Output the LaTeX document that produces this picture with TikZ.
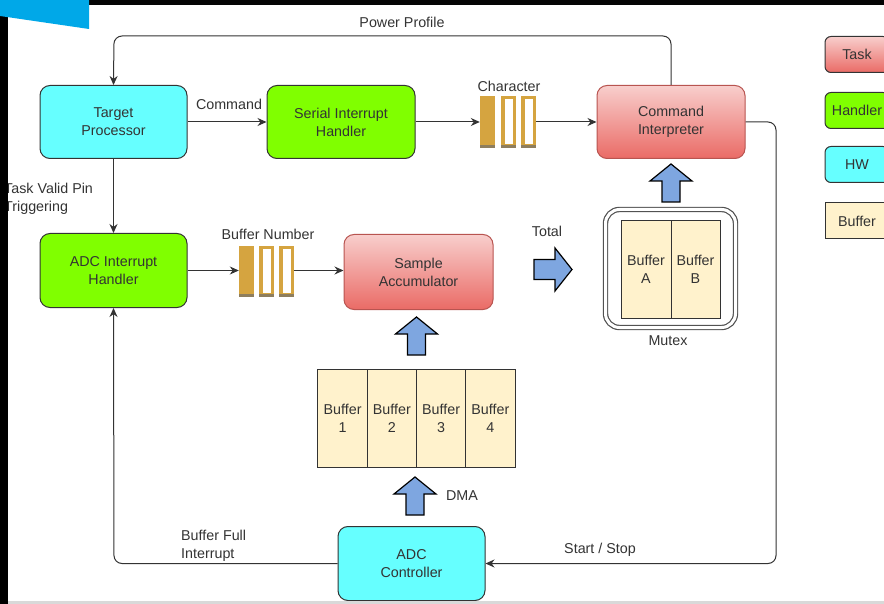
\documentclass[tikz,border=0pt]{standalone}
\usepackage{fontspec}
\setmainfont{Liberation Sans}
\usetikzlibrary{arrows.meta}
\definecolor{txt}{HTML}{333333}
\definecolor{strk}{HTML}{333333}
\definecolor{hwc}{HTML}{66FFFF}
\definecolor{handc}{HTML}{80FF00}
\definecolor{taskt}{HTML}{F8CECC}
\definecolor{taskb}{HTML}{EA6B66}
\definecolor{taskd}{HTML}{B85450}
\definecolor{bufc}{HTML}{FFF2CC}
\definecolor{qc}{HTML}{D5A440}
\definecolor{qd}{HTML}{8E7E5E}
\definecolor{arrc}{HTML}{7EA6E0}
\definecolor{topblue}{HTML}{00A8E8}
\newcommand\fs{\fontsize{14.3}{18}\selectfont}
\tikzset{
  box/.style={draw=strk, line width=1pt, rounded corners=10pt, minimum width=147pt, minimum height=73pt, inner sep=0pt, align=center, font=\fs, text=txt},
  hw/.style={box, fill=hwc},
  handler/.style={box, fill=handc},
  task/.style={box, top color=taskt, bottom color=taskb, draw=taskd},
  lbl/.style={font=\fs, text=txt, inner sep=0pt},
  conn/.style={draw=strk, line width=1pt, -{Stealth[length=9pt,width=8pt]}, rounded corners=8pt},
  bufcell/.style={draw=strk, line width=1pt, fill=bufc, inner sep=0pt, align=center, font=\fs, text=txt},
  legbox/.style={box, minimum width=64pt, minimum height=36pt, rounded corners=6pt},
  barrow/.style={draw=black, line width=1.2pt, fill=arrc, line join=miter},
  uparr/.pic={\draw[barrow] (-9,0) -- (-9,-21) -- (-21,-21) -- (0,-38) -- (21,-21) -- (9,-21) -- (9,0) -- cycle;},
  rarr/.pic={\draw[barrow] (0,-10) -- (21,-10) -- (21,-21.5) -- (38,0) -- (21,21.5) -- (21,10) -- (0,10) -- cycle;},
  qbar/.style={draw=qc, line width=3.5pt},
}
\begin{document}
\begin{tikzpicture}[x=1pt,y=-1pt]
\useasboundingbox (0,0) rectangle (884,604);
\clip (0,0) rectangle (884,604);
\fill[white] (0,0) rectangle (884,604);
\fill[black!2!white] (89,5) rectangle (884,10);

% main nodes
\node[hw] (tp) at (113.5,122) {Target\\Processor};
\node[handler, minimum width=148pt] (sih) at (341,122) {Serial Interrupt\\Handler};
\node[task, minimum width=148pt] (ci) at (671,122) {Command\\Interpreter};
\node[handler, minimum height=74pt] (aih) at (113.5,270.5) {ADC Interrupt\\Handler};
\node[task, minimum width=149pt, minimum height=75pt] (sa) at (418.5,272) {Sample\\Accumulator};
\node[hw, minimum height=74pt] (adc) at (411.5,563.5) {ADC\\Controller};

% legend
\node[task, legbox] (lt) at (857,54.5) {Task};
\node[handler, legbox] (lh) at (857,110.5) {Handler};
\node[hw, legbox] (lw) at (857,164.5) {HW};
\node[bufcell, minimum width=64pt, minimum height=36pt] (lb) at (857,221) {Buffer};

% character queue
\node[inner sep=0pt, minimum width=56pt, minimum height=52pt] (cq) at (508,122) {};
\fill[qc] (480,96) rectangle (495,148);
\draw[qbar] (502.75,97.75) rectangle (514.25,146.25);
\draw[qbar] (522.75,97.75) rectangle (534.25,146.25);
\fill[qd] (480,145.5) rectangle (495,148);
\fill[qd] (501,145.5) rectangle (516,148);
\fill[qd] (521,145.5) rectangle (536,148);

% buffer number queue
\node[inner sep=0pt, minimum width=55pt, minimum height=51pt] (bq) at (266.5,271) {};
\fill[qc] (239,246) rectangle (254,297);
\draw[qbar] (260.75,247.75) rectangle (272.25,295.25);
\draw[qbar] (280.75,247.75) rectangle (292.25,295.25);
\fill[qd] (239,294.5) rectangle (254,297);
\fill[qd] (259,294.5) rectangle (274,297);
\fill[qd] (279,294.5) rectangle (294,297);

% mutex
\node[draw=strk!85, line width=1.2pt, double, double distance=3pt, rounded corners=14pt, minimum width=130pt, minimum height=118pt] (mutex) at (670.5,268.5) {};
\node[bufcell, minimum width=50pt, minimum height=97pt] (ba) at (646,269.5) {Buffer\\A};
\node[bufcell, minimum width=49pt, minimum height=97pt] (bb) at (695.5,269.5) {Buffer\\B};
\node[lbl] (mutexl) at (668,341) {Mutex};

% buffers 1-4
\node[bufcell, minimum width=49.25pt, minimum height=98pt] (b1) at (342.6,418) {Buffer\\1};
\node[bufcell, minimum width=49.25pt, minimum height=98pt] (b2) at (391.9,418) {Buffer\\2};
\node[bufcell, minimum width=49.25pt, minimum height=98pt] (b3) at (441.1,418) {Buffer\\3};
\node[bufcell, minimum width=49.25pt, minimum height=98pt] (b4) at (490.4,418) {Buffer\\4};

% block arrows
\pic at (671,202) {uparr};
\pic at (416.5,355) {uparr};
\pic at (415,515) {uparr};
\pic at (534,269.5) {rarr};

% connectors
\coordinate (pp1) at (671,36);
\coordinate (pp2) at (114,36);
\draw[conn] (ci.north) -- (pp1) -- (pp2) -- (tp.north);
\draw[conn] (tp.east) -- (sih.west);
\draw[conn] (sih.east) -- (cq.west);
\draw[conn] (cq.east) -- (ci.west);
\draw[conn] (tp.south) -- (aih.north);
\draw[conn] (aih.east) -- (aih.east -| bq.west);
\draw[conn] (aih.east -| bq.east) -- (aih.east -| sa.west);
\coordinate (ss1) at (776,122);
\coordinate (ss2) at (776,563.5);
\draw[conn] (ci.east) -- (ss1) -- (ss2) -- (adc.east);
\coordinate (bf1) at (114,563.5);
\draw[conn] (adc.west) -- (bf1) -- (aih.south);

% labels
\node[lbl] at (402,22.5) {Power Profile};
\node[lbl] at (229,104.5) {Command};
\node[lbl] at (509,86.5) {Character};
\node[lbl, align=left, anchor=west] at (4,199) {Task Valid Pin\\Triggering};
\node[lbl] at (268,234.5) {Buffer Number};
\node[lbl] at (547,231.5) {Total};
\node[lbl] at (462,495.5) {DMA};
\node[lbl, align=left, anchor=west] at (181,546) {Buffer Full\\Interrupt};
\node[lbl] at (600,549.5) {Start / Stop};

% screenshot frame
\fill[black] (89,0) rectangle (884,5);
\fill[black] (0,0) rectangle (8,604);
\fill[topblue] (0,0) -- (89,0) -- (89,29) -- (0,16) -- cycle;
\fill[black!15] (8,601) rectangle (884,604);
\end{tikzpicture}
\end{document}
